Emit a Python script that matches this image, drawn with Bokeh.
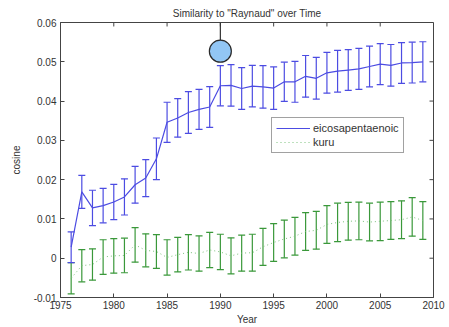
from bokeh.plotting import figure
from bokeh.models import (ColumnDataSource, Whisker, TeeHead, FixedTicker,
                          CustomJSTickFormatter, Range1d, Legend, LegendItem)
from bokeh.embed import file_html
from bokeh.resources import INLINE

# ---------------- data ----------------
years = list(range(1976, 2010))
epa_mean = [0.0028, 0.0169, 0.0128, 0.0134, 0.0143, 0.0156, 0.0187, 0.0204, 0.0253, 0.0346,
            0.0357, 0.0371, 0.0379, 0.0385, 0.0439, 0.0440, 0.0432, 0.0438, 0.0436, 0.0433,
            0.0449, 0.0449, 0.0463, 0.0458, 0.0472, 0.0476, 0.0479, 0.0482, 0.0488, 0.0494,
            0.0491, 0.0497, 0.0498, 0.0500]
epa_err = [0.0039, 0.0042, 0.0045, 0.0044, 0.0045, 0.0046, 0.0047, 0.0047, 0.0053, 0.0051,
           0.0049, 0.0053, 0.0051, 0.0052, 0.0051, 0.0053, 0.0053, 0.0053, 0.0054, 0.0054,
           0.0050, 0.0052, 0.0053, 0.0053, 0.0052, 0.0053, 0.0052, 0.0052, 0.0052, 0.0052,
           0.0053, 0.0052, 0.0052, 0.0051]
kuru_mean = [-0.0051, -0.0019, -0.0016, 0.0003, 0.0006, 0.0007, 0.0034, 0.0020, 0.0017, 0.0002,
             0.0009, 0.0015, 0.0012, 0.0021, 0.0016, 0.0006, 0.0013, 0.0014, 0.0029, 0.0040,
             0.0049, 0.0056, 0.0068, 0.0071, 0.0086, 0.0091, 0.0094, 0.0095, 0.0092, 0.0094,
             0.0096, 0.0098, 0.0105, 0.0096]
kuru_err = [0.0040, 0.0041, 0.0040, 0.0044, 0.0044, 0.0044, 0.0044, 0.0042, 0.0043, 0.0045,
            0.0044, 0.0045, 0.0045, 0.0045, 0.0045, 0.0046, 0.0046, 0.0047, 0.0047, 0.0048,
            0.0048, 0.0048, 0.0048, 0.0048, 0.0048, 0.0049, 0.0048, 0.0048, 0.0048, 0.0049,
            0.0048, 0.0048, 0.0049, 0.0048]
series_names = ["eicosapentaenoic", "kuru"]
x_ticks = [1975, 1980, 1985, 1990, 1995, 2000, 2005, 2010]
y_ticks = [-0.01, 0.0, 0.01, 0.02, 0.03, 0.04, 0.05, 0.06]
highlight_year = 1990
highlight_value = 0.0527

# ---------------- figure ----------------
FONT = "Liberation Sans"
TXT = "#333333"
AXC = "#444444"
BLUE = "#4c4ce2"
GREEN = "#3a983a"
GREEN_LINE = "#7cc27c"

W, H = 449, 327
L, R, T, B = 60, 16, 22, 29

p = figure(width=W, height=H, output_backend="svg", toolbar_location=None,
           x_range=Range1d(x_ticks[0], x_ticks[-1]), y_range=Range1d(y_ticks[0], y_ticks[-1]),
           min_border_left=L, min_border_right=R, min_border_top=T, min_border_bottom=B,
           title='Similarity to "Raynaud" over Time')
p.background_fill_color = "white"
p.border_fill_color = "white"
p.outline_line_color = AXC
p.grid.visible = False

p.title.align = "center"
p.title.text_font = FONT
p.title.text_font_size = "10px"
p.title.text_font_style = "normal"
p.title.text_color = TXT
p.title.standoff = 7

for ax in (p.xaxis[0], p.yaxis[0]):
    ax.major_tick_in = 4
    ax.major_tick_out = 0
    ax.minor_tick_line_color = None
    ax.axis_line_color = AXC
    ax.major_tick_line_color = AXC
    ax.major_label_text_font = FONT
    ax.major_label_text_font_size = "10px"
    ax.major_label_text_color = TXT
    ax.axis_label_text_font = FONT
    ax.axis_label_text_font_size = "10px"
    ax.axis_label_text_font_style = "normal"
    ax.axis_label_text_color = TXT

p.xaxis.ticker = FixedTicker(ticks=x_ticks)
p.yaxis.ticker = FixedTicker(ticks=y_ticks)
p.yaxis.formatter = CustomJSTickFormatter(code="return Math.abs(tick) < 1e-9 ? '0' : tick.toFixed(2);")
p.xaxis.axis_label = "Year"
p.yaxis.axis_label = "cosine"
p.xaxis.major_label_standoff = 3
p.xaxis.axis_label_standoff = 2
p.yaxis.major_label_standoff = 4
p.yaxis.axis_label_standoff = 9

# inward ticks on the top and right edges (MATLAB box style), from the tick arrays
plot_w = W - L - R
plot_h = H - T - B
tick_px = 4
dy = (y_ticks[-1] - y_ticks[0]) / plot_h * tick_px
dx = (x_ticks[-1] - x_ticks[0]) / plot_w * tick_px
p.segment(x0=x_ticks, y0=[y_ticks[-1]] * len(x_ticks), x1=x_ticks,
          y1=[y_ticks[-1] - dy] * len(x_ticks), line_color=AXC, line_width=1)
p.segment(x0=[x_ticks[-1]] * len(y_ticks), y0=y_ticks, x1=[x_ticks[-1] - dx] * len(y_ticks),
          y1=y_ticks, line_color=AXC, line_width=1)

epa_src = ColumnDataSource(dict(x=years, y=epa_mean,
                                lo=[m - e for m, e in zip(epa_mean, epa_err)],
                                hi=[m + e for m, e in zip(epa_mean, epa_err)]))
kuru_src = ColumnDataSource(dict(x=years, y=kuru_mean,
                                 lo=[m - e for m, e in zip(kuru_mean, kuru_err)],
                                 hi=[m + e for m, e in zip(kuru_mean, kuru_err)]))

# kuru (green)
p.add_layout(Whisker(source=kuru_src, base="x", lower="lo", upper="hi", dimension="height",
                     line_color=GREEN, line_width=1.2,
                     upper_head=TeeHead(size=7, line_color=GREEN, line_width=1.2),
                     lower_head=TeeHead(size=7, line_color=GREEN, line_width=1.2)))
r_kuru = p.line("x", "y", source=kuru_src, line_color=GREEN_LINE, line_width=1, line_dash="1 3")

# eicosapentaenoic (blue)
p.add_layout(Whisker(source=epa_src, base="x", lower="lo", upper="hi", dimension="height",
                     line_color=BLUE, line_width=1.2,
                     upper_head=TeeHead(size=7, line_color=BLUE, line_width=1.2),
                     lower_head=TeeHead(size=7, line_color=BLUE, line_width=1.2)))
r_epa = p.line("x", "y", source=epa_src, line_color=BLUE, line_width=1.2)

# highlight marker
p.segment(x0=[highlight_year], y0=[highlight_value], x1=[highlight_year], y1=[y_ticks[-1]],
          line_color="#333333", line_width=1.2)
p.scatter(x=[highlight_year], y=[highlight_value], size=22, marker="circle",
          fill_color="#92c6f4", line_color="#2a2a2a", line_width=1.2)

legend = Legend(items=[LegendItem(label=series_names[0], renderers=[r_epa]),
                       LegendItem(label=series_names[1], renderers=[r_kuru])],
                location=(211, 144))
legend.label_text_font = FONT
legend.label_text_font_size = "11px"
legend.label_text_color = TXT
legend.border_line_color = AXC
legend.background_fill_color = "white"
legend.glyph_width = 34
legend.glyph_height = 12
legend.label_height = 12
legend.label_standoff = 3
legend.spacing = 2
legend.padding = 4
legend.margin = 0
p.add_layout(legend, "center")

open("out.html", "w").write(file_html(p, INLINE))
